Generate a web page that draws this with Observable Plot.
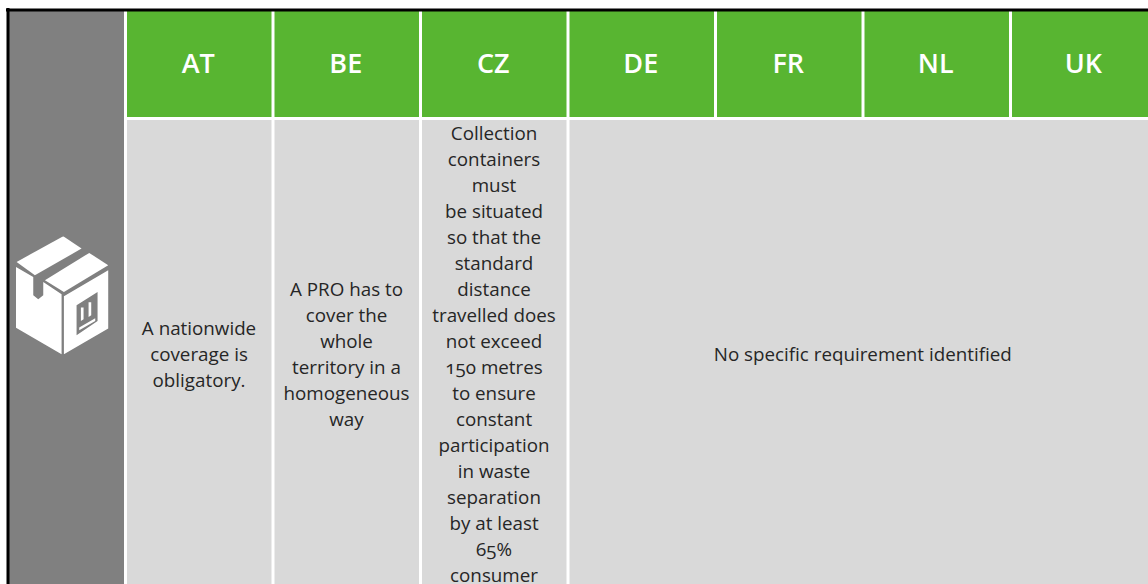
<!DOCTYPE html>
<html><head><meta charset="utf-8">
<script src="https://cdn.jsdelivr.net/npm/d3@7"></script>
<script src="https://cdn.jsdelivr.net/npm/@observablehq/plot@0.6"></script>
<style>
html,body{margin:0;padding:0;background:#fff;overflow:hidden}
svg{display:block;font-variant-numeric:oldstyle-nums}
</style></head><body><div id="chart"></div>
<script>
const countries = ["AT","BE","CZ","DE","FR","NL","UK"];
const columnIndex = [0,1,2,3,4,5,6];
const cellText = [
  "A nationwide\ncoverage is\nobligatory.",
  "A PRO has to\ncover the\nwhole\nterritory in a\nhomogeneous\nway",
  "Collection\ncontainers\nmust\nbe situated\nso that the\nstandard\ndistance\ntravelled does\nnot exceed\n150 metres\nto ensure\nconstant\nparticipation\nin waste\nseparation\nby at least\n65%\nconsumer",
  "No specific requirement identified"
];
const cellStart = [0,1,2,3];
const cellEnd = [1,2,3,7.2];
const iconSvg = `<svg xmlns="http://www.w3.org/2000/svg" viewBox="48 48 280 356"><g fill="#fff">
<path d="M50 125L190 48L245 85L105 165Z"/>
<path d="M135 180L268 98L325 135L192 215Z"/>
<path d="M48 140L100 170V225L115 237L130 225V185L185 222V402L48 322Z"/>
<path fill-rule="evenodd" d="M192 228L325 150V325L192 402ZM230 255V345L293 302V215Z"/>
<path d="M243 302V262H251V297ZM266 290V246H274V285ZM238 322L286 294V302L238 330Z"/>
</g></svg>`;
const iconUri = "data:image/svg+xml," + encodeURIComponent(iconSvg);

const headers = columnIndex.map(i => ({i, label: countries[i]}));
const cells = cellText.map((t,k) => ({t, a: cellStart[k], b: cellEnd[k]}));
const font = "'Open Sans', sans-serif";

const plot = Plot.plot({
  width: 1148, height: 584,
  margin: 0,
  x: {type:"linear", domain:[-0.8,7], range:[7.5,1158], axis:null},
  y: {type:"linear", domain:[0,5.3], range:[9.5,587.2], axis:null},
  marks: [
    Plot.rect([{}], {x1:-0.8, x2:0, y1:0, y2:5.3, fill:"#808080", insetRight:1.5}),
    Plot.rect(headers, {x1:"i", x2:d=>d.i+1, y1:0, y2:1, fill:"#58b531", inset:1.5}),
    Plot.rect(cells, {x1:"a", x2:"b", y1:1, y2:5.3, fill:"#d9d9d9", inset:1.5}),
    Plot.text(headers, {x:d=>d.i+0.49, y:0.5, text:"label", fill:"#fff", fontSize:27, fontWeight:600, fontFamily:font}),
    Plot.text(cells, {x:d=>(d.a+Math.min(d.b,7))/2 - 0.005, y:3.145, text:"t", fill:"#262626", fontSize:18.8, fontFamily:font, lineHeight:26/18.8}),
    Plot.image([{}], {x:-0.43, y:2.62, src:()=>iconUri, width:93.3, height:118.7, preserveAspectRatio:"none"}),
    Plot.ruleX([-0.8], {y1:0, y2:5.3, stroke:"#000", strokeWidth:3, strokeLinecap:"square"}),
    Plot.ruleY([0], {x1:-0.8, x2:7, stroke:"#000", strokeWidth:3, strokeLinecap:"square"})
  ]
});
document.getElementById("chart").append(plot);
</script></body></html>
